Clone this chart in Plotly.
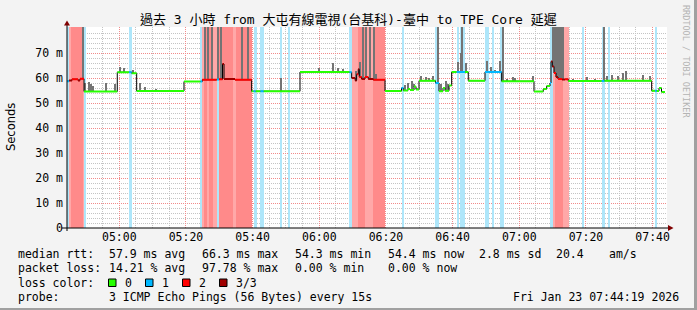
import bisect
from datetime import datetime
import plotly.graph_objects as go

DAY = "2026-01-23"
T_START, T_END = "04:44:19", "07:44:19"
Y_MAX = 80.4

# ---- median rtt step series: step start time, median (ms), loss level (0,1,2,3) ----
med_time = ["04:44:19", "04:44:55", "04:45:49", "04:47:37", "04:48:13", "04:49:25", "04:59:24",
            "05:02:55", "05:03:43", "05:05:13", "05:19:25", "05:24:22", "05:24:54", "05:29:13",
            "05:29:55", "05:30:58", "05:31:25", "05:34:43", "05:39:43", "05:40:16", "05:40:52",
            "05:42:22", "05:43:16", "05:54:13", "06:09:04", "06:09:43", "06:10:46", "06:11:13",
            "06:11:42", "06:12:00", "06:12:43", "06:13:43", "06:14:42", "06:16:12", "06:19:43",
            "06:24:40", "06:25:12", "06:26:37", "06:27:13", "06:28:25", "06:29:01", "06:29:55",
            "06:34:52", "06:35:55", "06:37:07", "06:37:43", "06:38:55", "06:39:43", "06:41:13",
            "06:43:43", "06:44:42", "06:49:43", "06:54:43", "07:04:25", "07:07:12", "07:08:13",
            "07:09:13", "07:09:31", "07:09:54", "07:10:25", "07:11:01", "07:11:37", "07:12:49",
            "07:13:43", "07:14:42", "07:24:43", "07:25:30", "07:39:43", "07:40:43", "07:41:13",
            "07:41:55", "07:42:40"]
med_ms = [58.7, 59.0, 59.5, 59.0, 59.7, 54.6, 62.3,
          62.3, 61.9, 54.8, 58.6, 58.6, 59.3, 59.4,
          59.5, 65.6, 59.6, 59.3, 54.7, 54.7, 54.7,
          54.7, 54.7, 62.4, 62.3, 60.0, 59.0, 61.5,
          63.5, 60.4, 59.6, 60.4, 59.6, 59.3, 54.8,
          56.0, 55.0, 55.6, 55.2, 56.6, 55.4, 58.9,
          58.0, 54.7, 56.0, 54.9, 57.0, 62.4, 62.4,
          62.4, 58.9, 62.4, 58.7, 54.6, 55.6, 56.8,
          58.0, 66.6, 64.6, 62.0, 60.4, 59.6, 59.4,
          59.5, 58.8, 58.8, 58.9, 54.9, 54.9, 54.8,
          56.0, 54.4]
med_loss = [1, 3, 2, 3, 2, 0, 0,
            1, 0, 0, 0, 1, 2, 1,
            2, 3, 3, 2, 0, 1, 0,
            1, 0, 0, 1, 3, 3, 2,
            3, 2, 3, 2, 3, 2, 0,
            1, 0, 0, 0, 0, 0, 0,
            1, 0, 0, 0, 0, 0, 1,
            0, 0, 1, 0, 0, 0, 0,
            1, 3, 3, 2, 3, 2, 3,
            2, 0, 1, 0, 0, 1, 0,
            0, 0]
med_end = "07:43:43"

# ---- packet-loss background bands ----
band_start = ["04:44:19", "04:44:55", "04:45:31", "04:48:58", "04:49:25", "05:02:55", "05:24:13",
              "05:24:54", "05:25:25", "05:26:24", "05:27:00", "05:28:12", "05:29:19", "05:29:55",
              "05:34:07", "05:35:01", "05:40:25", "05:42:13", "05:48:13", "05:50:49", "06:09:00",
              "06:09:43", "06:11:37", "06:13:43", "06:16:07", "06:24:43", "06:34:43", "06:41:13",
              "06:42:13", "06:49:43", "06:51:43", "06:54:13", "07:09:13", "07:10:12", "07:10:43",
              "07:13:12", "07:18:43", "07:24:43", "07:26:42", "07:40:43"]
band_end = ["04:44:55", "04:45:31", "04:48:58", "04:49:25", "04:49:48", "05:03:49", "05:24:54",
            "05:25:25", "05:26:24", "05:27:00", "05:28:12", "05:29:19", "05:29:55", "05:34:07",
            "05:35:01", "05:39:54", "05:41:24", "05:43:30", "05:48:49", "05:51:13", "06:09:43",
            "06:11:37", "06:13:43", "06:16:07", "06:19:43", "06:25:21", "06:35:55", "06:42:00",
            "06:43:43", "06:50:55", "06:52:25", "06:55:25", "07:10:12", "07:10:43", "07:13:12",
            "07:15:00", "07:19:30", "07:25:37", "07:27:13", "07:41:13"]
band_loss = [1, 2, 3, 2, 1, 1, 1,
             2, 3, 2, 3, 2, 1, 3,
             2, 3, 1, 1, 1, 1, 1,
             2, 3, 2, 3, 1, 1, 1,
             1, 1, 1, 1, 1, 2, 3,
             2, 1, 1, 1, 1]

# ---- smoke (max ping) bars: time, top (ms) ----
smoke_time = ["04:49:12", "04:49:43", "04:50:46", "04:51:31", "04:52:07", "04:55:52", "04:58:34",
              "05:00:04", "05:01:19", "05:03:58", "05:06:04", "05:07:48", "05:10:55",
              "05:25:34", "05:26:42", "05:27:52", "05:29:31", "05:30:22", "05:36:54", "05:38:31",
              "05:48:27", "05:59:55", "06:03:58", "06:05:28", "06:06:58",
              "06:10:55", "06:12:04", "06:13:07", "06:14:06", "06:15:04", "06:16:16", "06:17:01",
              "06:25:43", "06:26:42", "06:27:43", "06:28:25", "06:29:13",
              "06:30:22", "06:31:57", "06:32:58", "06:33:58", "06:35:28",
              "06:36:31", "06:38:01", "06:38:42",
              "06:41:31", "06:42:27", "06:42:52", "06:43:57",
              "06:50:10", "06:51:22", "06:52:34", "06:54:13", "06:54:58",
              "06:56:13", "06:58:07", "06:58:43", "07:03:58",
              "07:09:58", "07:10:34", "07:11:10", "07:11:46", "07:12:22", "07:12:58",
              "07:16:12", "07:20:13", "07:22:43", "07:25:25", "07:26:13", "07:27:43", "07:29:28",
              "07:30:58", "07:32:06", "07:36:58", "07:39:13"]
smoke_top = [90, 58.0, 58.3, 57.8, 56.9, 58.1, 57.6,
             64.3, 64.0, 63.3, 58.0, 56.3, 55.5,
             90, 90, 90, 90, 90, 90, 90,
             60.0, 64.0, 66.0, 64.0, 63.5,
             63.0, 66.5, 90, 90, 90, 90, 61.5,
             57.3, 58.2, 58.9, 57.7, 56.0,
             60.7, 60.3, 59.9, 60.7, 90,
             57.7, 58.8, 57.7,
             66.3, 70.0, 90, 66.0,
             67.0, 64.6, 63.3, 66.7, 90,
             59.6, 60.4, 60.0, 60.9,
             90, 90, 90, 90, 90, 90,
             59.6, 60.4, 59.6, 90, 60.7, 61.3, 60.7,
             62.0, 63.0, 61.3, 61.0]

y_ticks = [0, 10, 20, 30, 40, 50, 60, 70]
y_ticklabels = ["0", "10 m", "20 m", "30 m", "40 m", "50 m", "60 m", "70 m"]

LOSS_LINE = {0: "#26ff00", 1: "#00b8ff", 2: "#ff0000", 3: "#a00000"}
LOSS_BAND = {1: "#aee6fa", 2: "#ffa8a8", 3: "#ff8a8a"}
MONO = "DejaVu Sans Mono"


def ts(s):
    return datetime.strptime(f"{DAY} {s}", "%Y-%m-%d %H:%M:%S")


# pixel helpers for decorations outside the plot (plot area: x 67..667, y 27..228)
def PX(x):
    return (x - 67) / 600.0


def PY(y):
    return (228 - y) / 201.0


fig = go.Figure()

# loss bands
for lvl in (1, 2, 3):
    xs, ws = [], []
    for s, e, l in zip(band_start, band_end, band_loss):
        if l != lvl:
            continue
        a, b = ts(s), ts(e)
        xs.append(a + (b - a) / 2)
        ws.append((b - a).total_seconds() * 1000)
    fig.add_trace(go.Bar(x=xs, y=[Y_MAX] * len(xs), base=0, width=ws,
                         marker=dict(color=LOSS_BAND[lvl], line=dict(width=0)),
                         hoverinfo="skip", showlegend=False))

# smoke bars from median to max ping
mt = [ts(t) for t in med_time]
sx, sb, sh = [], [], []
for t, top in zip(smoke_time, smoke_top):
    tt = ts(t)
    i = max(0, bisect.bisect_right(mt, tt) - 1)
    base = med_ms[i]
    sx.append(tt)
    sb.append(base)
    sh.append(top - base)
fig.add_trace(go.Bar(x=sx, y=sh, base=sb, width=[36000] * len(sx),
                     marker=dict(color="#747474", line=dict(width=0)),
                     hoverinfo="skip", showlegend=False))

# black step connector
fig.add_trace(go.Scatter(x=mt + [ts(med_end)], y=med_ms + [med_ms[-1]], mode="lines",
                         line=dict(color="#000000", width=1, shape="hv"),
                         hoverinfo="skip", showlegend=False))

# coloured median segments
ends = med_time[1:] + [med_end]
for lvl in (0, 1, 2, 3):
    xs, ys = [], []
    for s, e, v, l in zip(med_time, ends, med_ms, med_loss):
        if l != lvl:
            continue
        xs += [ts(s), ts(e), None]
        ys += [v, v, None]
    fig.add_trace(go.Scatter(x=xs, y=ys, mode="lines",
                             line=dict(color=LOSS_LINE[lvl], width=2),
                             hoverinfo="skip", showlegend=False))

shapes = []
# axis extensions and arrows
shapes.append(dict(type="line", xref="paper", yref="paper", x0=PX(62), x1=PX(669),
                   y0=PY(228), y1=PY(228), line=dict(color="#000", width=1)))
shapes.append(dict(type="line", xref="paper", yref="paper", x0=PX(67), x1=PX(67),
                   y0=PY(231), y1=PY(24), line=dict(color="#000", width=1)))
shapes.append(dict(type="path", xref="paper", yref="paper",
                   path=f"M {PX(668)} {PY(225)} L {PX(673.5)} {PY(228)} L {PX(668)} {PY(231)} Z",
                   fillcolor="#800000", line=dict(width=0)))
shapes.append(dict(type="path", xref="paper", yref="paper",
                   path=f"M {PX(64)} {PY(25.5)} L {PX(67)} {PY(20.5)} L {PX(70)} {PY(25.5)} Z",
                   fillcolor="#800000", line=dict(width=0)))
# frame shading
shapes.append(dict(type="rect", xref="paper", yref="paper", x0=PX(694), x1=PX(697.5),
                   y0=PY(310.5), y1=PY(-0.5), fillcolor="#a0a0a0", line=dict(width=0)))
shapes.append(dict(type="rect", xref="paper", yref="paper", x0=PX(-0.5), x1=PX(697.5),
                   y0=PY(310.5), y1=PY(308), fillcolor="#a0a0a0", line=dict(width=0)))
# legend colour boxes
for lvl, bx in zip((0, 1, 2, 3), (108.5, 145.5, 182.5, 219.5)):
    shapes.append(dict(type="rect", xref="paper", yref="paper", x0=PX(bx), x1=PX(bx + 7.5),
                       y0=PY(286.5), y1=PY(279), fillcolor=LOSS_LINE[lvl],
                       line=dict(color="#000", width=1)))

ann = []


def txt(x, y, s, anchor="left", size=11.5, family=MONO, color="#000", angle=0):
    ann.append(dict(x=PX(x), y=PY(y), xref="paper", yref="paper", text=s, showarrow=False,
                    xanchor=anchor, yanchor="middle", textangle=angle,
                    font=dict(family=family, size=size, color=color)))


txt(348, 19.5, "過去 3 小時 from 大屯有線電視(台基科)-臺中 to TPE Core 延遲", anchor="center",
    size=13, family=MONO + ", Noto Sans CJK TC")
txt(10.5, 127.5, "Seconds", anchor="center", family="DejaVu Sans", angle=-90)
txt(686.5, 61.5, "RRDTOOL / TOBI OETIKER", anchor="center", size=8.5, color="#b4b4b4", angle=90)

row1 = [(16, "median rtt:"), (107.3, "57.9 ms avg"), (200, "66.3 ms max"), (293.3, "54.3 ms min"),
        (386.3, "54.4 ms now"), (477, "2.8 ms sd"), (553.5, "20.4"), (606.5, "am/s")]
row2 = [(16, "packet loss:"), (107.3, "14.21 % avg"), (200, "97.78 % max"), (293.3, "0.00 % min"),
        (386.3, "0.00 % now")]
row3 = [(16, "loss color:"), (123.3, "0"), (160, "1"), (197.3, "2"), (234, "3/3")]
row4 = [(16, "probe:"), (107.3, "3 ICMP Echo Pings (56 Bytes) every 15s")]
for yy, row in ((254, row1), (268.3, row2), (282.7, row3), (296.5, row4)):
    for x, s in row:
        txt(x, yy, s)
txt(680.5, 296.5, "Fri Jan 23 07:44:19 2026", anchor="right")

fig.update_layout(
    width=697, height=310,
    margin=dict(l=67, r=30, t=27, b=82, pad=0),
    paper_bgcolor="#f3f3f3", plot_bgcolor="#ffffff",
    barmode="overlay", bargap=0, showlegend=False,
    shapes=shapes, annotations=ann,
    xaxis=dict(type="date", range=[ts(T_START), ts(T_END)],
               tick0=ts("05:00:00"), dtick=20 * 60 * 1000, tickformat="%H:%M",
               showgrid=True, gridcolor="#f28a8a", griddash="1px,1px", gridwidth=1,
               minor=dict(dtick=5 * 60 * 1000, showgrid=True, gridcolor="#c4c4c4",
                          griddash="1px,1px", gridwidth=1),
               showline=False, zeroline=False, ticks="",
               tickfont=dict(family=MONO, size=11.5, color="#000")),
    yaxis=dict(range=[0, Y_MAX], tickvals=y_ticks, ticktext=y_ticklabels,
               showgrid=True, gridcolor="#f28a8a", griddash="1px,1px", gridwidth=1,
               minor=dict(dtick=2, showgrid=True, gridcolor="#c4c4c4",
                          griddash="1px,1px", gridwidth=1),
               showline=False, zeroline=False, ticks="", ticklabelstandoff=3,
               tickfont=dict(family=MONO, size=11.5, color="#000")),
)

fig.write_html("out.html")
